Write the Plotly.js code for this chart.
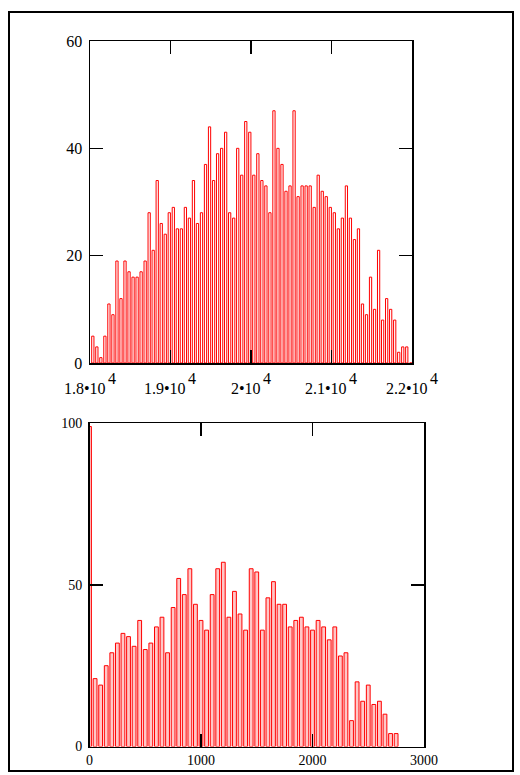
<!DOCTYPE html>
<html><head><meta charset="utf-8">
<script src="https://cdn.plot.ly/plotly-3.0.1.min.js"></script>
<style>html,body{margin:0;padding:0;background:#fff;} #chart{width:520px;height:775px;}</style>
</head><body><div id="chart"></div>
<script>
// ---- data: top histogram (bins of 50 from 1.8e4 to 2.2e4) ----
const topBinStart = 18035;
const topBinWidth = 50;
const topCounts = [
  5, 3, 1, 5, 11, 9, 19, 12, 19, 17, 16, 16, 17, 19, 28, 21, 34, 26, 24, 28,
  29, 25, 25, 29, 27, 34, 26, 28, 37, 44, 34, 39, 40, 43, 28, 27, 40, 35, 45, 43,
  35, 39, 34, 33, 28, 47, 40, 37, 32, 33, 47, 31, 33, 33, 33, 29, 35, 32, 31, 29,
  28, 25, 27, 33, 27, 23, 25, 11, 9, 16, 10, 21, 8, 12, 10, 8, 2, 3, 3, 0
];
const topTickVals = [18000, 19000, 20000, 21000, 22000];
const topTickMant = ['1.8\u202210', '1.9\u202210', '2\u202210', '2.1\u202210', '2.2\u202210'];
const topTickExp = ['4', '4', '4', '4', '4'];

// ---- data: bottom histogram (bins of 50 from 0) ----
const botBinStart = 0;
const botBinWidth = 50;
const botCounts = [
  99, 21, 19, 25, 29, 32, 35, 34, 31, 39, 30, 32, 37, 40, 29, 43, 52, 47, 55, 44,
  39, 36, 47, 55, 57, 40, 48, 41, 36, 55, 54, 36, 46, 51, 44, 44, 37, 39, 40, 37,
  36, 39, 37, 33, 37, 28, 29, 8, 20, 14, 19, 13, 14, 10, 4, 4
];

const W = 520, H = 775;
const FAM = 'Liberation Serif, Times New Roman, serif';
const font = {family: FAM, color: '#000'};
const TOPFS = 16;

// measure text widths to centre "mantissa + exponent" labels under their ticks
const cv = document.createElement('canvas').getContext('2d');
cv.font = TOPFS + "px 'Liberation Serif'";
function tw(s) { return cv.measureText(s).width; }

const traces = [
  {type: 'bar', x0: topBinStart, dx: topBinWidth, y: topCounts, width: 28,
   xaxis: 'x', yaxis: 'y', hoverinfo: 'none',
   marker: {color: '#ffffff', line: {color: '#ff0000', width: 1}}},
  {type: 'bar', x0: botBinStart, dx: botBinWidth, y: botCounts, width: 34,
   xaxis: 'x2', yaxis: 'y2', hoverinfo: 'none',
   marker: {color: 'rgba(255,0,0,0.22)', line: {color: '#ff0000', width: 1}}}
];

const axisCommon = {
  showgrid: false, zeroline: false, showline: true, linecolor: '#000', linewidth: 1.5,
  mirror: 'ticks', ticks: 'inside', ticklen: 13, tickwidth: 1.5, tickcolor: '#000',
  fixedrange: true
};

const annotations = [];
topTickVals.forEach(function (v, i) {
  const wb = tw(topTickMant[i]), we = tw(topTickExp[i]);
  const s = (wb - we) / 2;
  annotations.push({xref: 'x', yref: 'paper', x: v, y: 1 - 388 / H, text: topTickMant[i],
    xanchor: 'right', yanchor: 'middle', xshift: s, showarrow: false, borderpad: 0,
    font: Object.assign({size: TOPFS}, font)});
  annotations.push({xref: 'x', yref: 'paper', x: v, y: 1 - 378 / H, text: topTickExp[i],
    xanchor: 'left', yanchor: 'middle', xshift: s, showarrow: false, borderpad: 0,
    font: Object.assign({size: TOPFS}, font)});
});

const layout = {
  width: W, height: H,
  margin: {l: 0, r: 0, t: 0, b: 0},
  paper_bgcolor: '#fff', plot_bgcolor: '#fff',
  showlegend: false,
  xaxis: Object.assign({}, axisCommon, {
    domain: [90 / W, 412 / W], range: [18000, 22000], anchor: 'y',
    tickmode: 'array', tickvals: topTickVals, showticklabels: false
  }),
  yaxis: Object.assign({}, axisCommon, {
    domain: [1 - 363 / H, 1 - 41 / H], range: [0, 60], dtick: 20, anchor: 'x',
    tickfont: Object.assign({size: TOPFS}, font), ticklabelstandoff: 3
  }),
  xaxis2: Object.assign({}, axisCommon, {
    domain: [89.5 / W, 424 / W], range: [0, 3000], dtick: 1000, anchor: 'y2',
    tickfont: Object.assign({size: 14}, font)
  }),
  yaxis2: Object.assign({}, axisCommon, {
    domain: [1 - 746.5 / H, 1 - 423.3 / H], range: [0, 100], dtick: 50, anchor: 'x2',
    tickfont: Object.assign({size: 14}, font), ticklabelstandoff: 3
  }),
  annotations: annotations,
  shapes: [{type: 'rect', xref: 'paper', yref: 'paper',
            x0: 9 / W, x1: 513 / W, y0: 1 - 771 / H, y1: 1 - 12 / H,
            line: {color: '#000', width: 2}, fillcolor: 'rgba(0,0,0,0)'}]
};

Plotly.newPlot('chart', traces, layout, {staticPlot: true, displayModeBar: false});
</script></body></html>
